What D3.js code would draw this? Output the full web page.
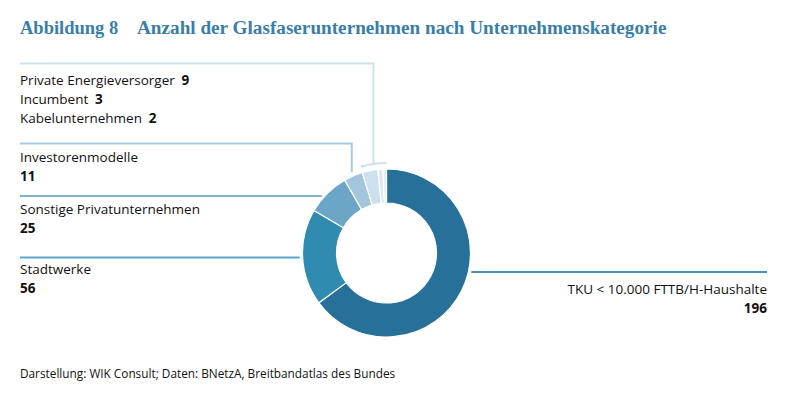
<!DOCTYPE html>
<meta charset="utf-8">
<title>Abbildung 8</title>
<style>
body { margin: 0; background: #fff; }
text { font-family: "Open Sans", sans-serif; fill: #111; }
.title { font-family: "Liberation Serif", serif; font-weight: bold; fill: #3a7ea7; }
</style>
<svg></svg>
<script src="https://cdn.jsdelivr.net/npm/d3@7"></script>
<script>
// data, clockwise from 12 o'clock
var categories = ["TKU < 10.000 FTTB/H-Haushalte", "Stadtwerke", "Sonstige Privatunternehmen",
                  "Investorenmodelle", "Private Energieversorger", "Incumbent", "Kabelunternehmen"];
var counts = [196, 56, 25, 11, 9, 3, 2];
var colors = ["#27709a", "#2f8bb0", "#6ba6c6", "#a3c6dd", "#cde0ed", "#dce9f2", "#e4eef5"];

var width = 790, height = 399;
var cx = 386.5, cy = 253, R = 84, r = 50;

var svg = d3.select("svg").attr("width", width).attr("height", height);

svg.append("text").attr("class", "title")
    .attr("x", 20).attr("y", 34).style("font-size", "18.5px")
    .text("Abbildung 8");
svg.append("text").attr("class", "title")
    .attr("x", 137).attr("y", 34).style("font-size", "19.2px")
    .text("Anzahl der Glasfaserunternehmen nach Unternehmenskategorie");

var data = categories.map(function(c, i) { return { name: c, value: counts[i], color: colors[i] }; });

var pie = d3.pie().sort(null).value(function(d) { return d.value; });
var arcs = pie(data);
var arc = d3.arc().innerRadius(r).outerRadius(R);

var g = svg.append("g").attr("transform", "translate(" + cx + "," + cy + ")");
g.selectAll("path.slice")
    .data(arcs)
  .enter().append("path")
    .attr("class", "slice")
    .attr("d", arc)
    .style("fill", function(d) { return d.data.color; })
    .style("stroke", "#fff")
    .style("stroke-width", 1.2);

// helpers
function edgeX(y, side) { // x on outer circle at height y
  var dy = y - cy;
  return cx + side * Math.sqrt(R * R - dy * dy);
}
function pt(angle, rad) { return [cx + rad * Math.sin(angle), cy - rad * Math.cos(angle)]; }
function mid(a) { return (a.startAngle + a.endAngle) / 2; }

var lines = svg.append("g").style("fill", "none").style("stroke-width", 2);

// TKU
lines.append("path").style("stroke", "#4f8db2")
    .attr("d", "M" + (edgeX(272, 1) + 3) + ",272H767");
// Stadtwerke
lines.append("path").style("stroke", "#5aa6c9")
    .attr("d", "M20,257.5H" + (edgeX(257.5, -1) - 3));
// Sonstige
lines.append("path").style("stroke", "#7fb2d0")
    .attr("d", "M20,196H" + (edgeX(196, -1) - 3));
// Investoren
var pInv = pt(mid(arcs[3]), R + 4);
lines.append("path").style("stroke", "#a9cbe1")
    .attr("d", "M20,143.5H" + pInv[0] + "V" + pInv[1]);
// small group: bracket over last three slices
var a0 = arcs[4].startAngle, a1 = arcs[6].endAngle;
var bracket = d3.arc().innerRadius(R + 6).outerRadius(R + 6).startAngle(a0).endAngle(a1);
var pTop = pt((a0 + a1) / 2, R + 6);
lines.append("path").style("stroke", "#cfe1ee")
    .attr("d", "M20,63.5H" + pTop[0] + "V" + pTop[1]);
lines.append("path").style("stroke", "#cfe1ee")
    .attr("transform", "translate(" + cx + "," + cy + ")")
    .attr("d", bracket);

// labels
var fs = "13.5px";
function label(x, y, name, val, anchor) {
  svg.append("text").attr("x", x).attr("y", y).style("font-size", fs)
      .style("font-weight", 500)
      .attr("text-anchor", anchor || "start").text(name);
  svg.append("text").attr("x", x).attr("y", y + 19).style("font-size", fs)
      .style("font-weight", "bold").attr("text-anchor", anchor || "start").text(val);
}
[4, 5, 6].forEach(function(i, k) {
  var t = svg.append("text").attr("x", 20).attr("y", 85 + k * 19).style("font-size", fs)
      .style("font-weight", 500);
  t.append("tspan").text(categories[i] + "\u2002");
  t.append("tspan").style("font-weight", "bold").text(counts[i]);
});
label(20, 162, categories[3], counts[3]);
label(20, 214, categories[2], counts[2]);
label(20, 274, categories[1], counts[1]);
label(767, 294, categories[0], counts[0], "end");

svg.append("text").attr("x", 20).attr("y", 378).style("font-size", "11.8px")
    .style("font-weight", 500)
    .text("Darstellung: WIK Consult; Daten: BNetzA, Breitbandatlas des Bundes");
</script>
